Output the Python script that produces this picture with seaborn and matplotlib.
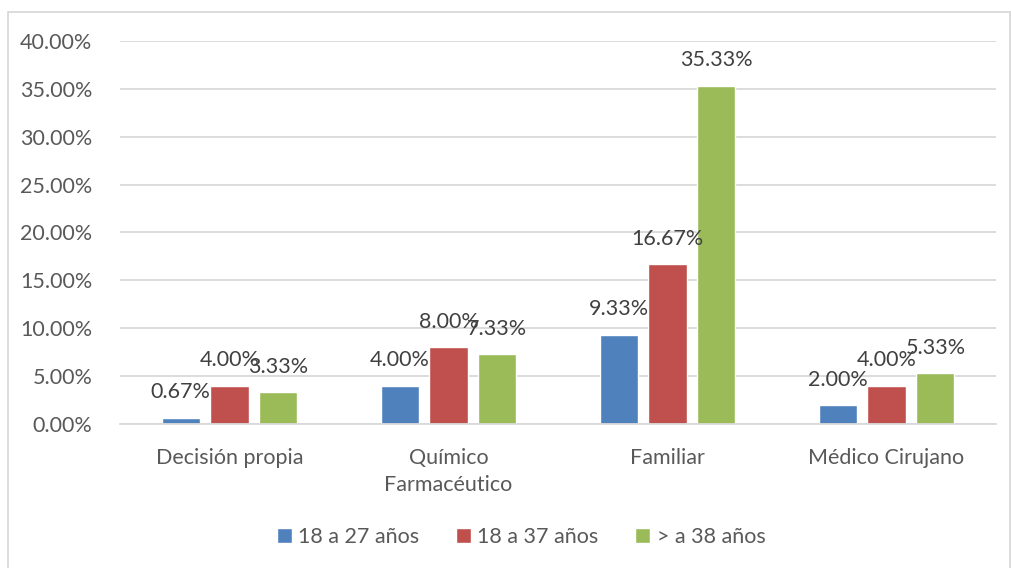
import matplotlib
matplotlib.use('Agg')
import matplotlib.pyplot as plt
import seaborn as sns
import pandas as pd
from matplotlib.ticker import PercentFormatter
from matplotlib.patches import Rectangle

categories = ['Decisión propia', 'Químico\nFarmacéutico', 'Familiar', 'Médico Cirujano']
series = ['18 a 27 años', '18 a 37 años', '> a 38 años']
v_18_27 = [0.67, 4.00, 9.33, 2.00]
v_18_37 = [4.00, 8.00, 16.67, 4.00]
v_38 = [3.33, 7.33, 35.33, 5.33]
colors = ['#4F81BD', '#C0504D', '#9BBB59']

rows = []
for s, vals in zip(series, [v_18_27, v_18_37, v_38]):
    for c, v in zip(categories, vals):
        rows.append({'cat': c, 'serie': s, 'val': v})
df = pd.DataFrame(rows)

sns.set_style('white')
plt.rcParams['font.family'] = ['Lato', 'DejaVu Sans']
fs = 15.5

fig = plt.figure(figsize=(10.11, 5.68), dpi=100)
ax = fig.add_axes([120 / 1011, 1 - 424 / 568, 876 / 1011, 383 / 568])

sns.barplot(data=df, x='cat', y='val', hue='serie', palette=colors,
            width=0.67, gap=0.22, ax=ax, legend=True, saturation=1)

ax.set_ylim(0, 40)
ax.set_yticks(range(0, 41, 5))
ax.yaxis.set_major_formatter(PercentFormatter(decimals=2))
ax.grid(axis='y', color='#D9D9D9', linewidth=1.3)
ax.set_axisbelow(True)
for sp in ['top', 'right', 'left']:
    ax.spines[sp].set_visible(False)
ax.spines['bottom'].set_color('#D9D9D9')
ax.spines['bottom'].set_linewidth(1.3)
ax.set_xlabel('')
ax.set_ylabel('')
ax.tick_params(axis='both', length=0, labelsize=fs, colors='#595959')
ax.tick_params(axis='x', pad=17)
ax.tick_params(axis='y', pad=20)
for t in ax.get_xticklabels():
    t.set_linespacing(1.45)

for cont in ax.containers:
    ax.bar_label(cont, labels=[f'{v:.2f}%' for v in cont.datavalues],
                 padding=11, fontsize=fs, color='#404040')

handles, labels = ax.get_legend_handles_labels()
ax.legend(handles, labels, loc='center', bbox_to_anchor=(521 / 1011, 1 - 537 / 568),
          bbox_transform=fig.transFigure,
          ncol=3, frameon=False, fontsize=fs, handlelength=0.7,
          handleheight=0.7, handletextpad=0.3, columnspacing=1.7,
          labelcolor='#595959')

fig.patches.append(Rectangle((8 / 1011, -0.01), 1002 / 1011, 1 - 12 / 568 + 0.01,
                             transform=fig.transFigure, fill=False,
                             edgecolor='#D9D9D9', linewidth=1.3))

fig.savefig('out.png', dpi=100)
